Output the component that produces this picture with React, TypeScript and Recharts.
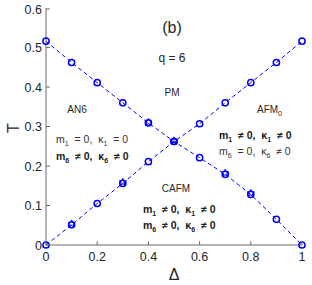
import React from 'react';
import { ComposedChart, Line, Scatter, XAxis, YAxis } from 'recharts';

// phase boundaries (q = 6)
const delta = [0, 0.1, 0.2, 0.3, 0.4, 0.5, 0.6, 0.7, 0.8, 0.9, 1];
const descT = [0.516, 0.462, 0.411, 0.36, 0.309, 0.262, 0.221, 0.179, 0.128, 0.065, 0];
const ascT = [0, 0.051, 0.105, 0.156, 0.211, 0.262, 0.307, 0.36, 0.411, 0.462, 0.516];
// points where the second (star) marker set is visible
const starD = [0.4, 0.1, 0.3, 0.5, 0.7, 0.8];
const starT = [0.311, 0.054, 0.159, 0.264, 0.182, 0.131];

const xTicks = [0, 0.2, 0.4, 0.6, 0.8, 1];
const yTicks = [0, 0.1, 0.2, 0.3, 0.4, 0.5, 0.6];

const descData = delta.map((d, i) => ({ d, t: descT[i] }));
const ascData = delta.map((d, i) => ({ d, t: ascT[i] }));
const starData = starD.map((d, i) => ({ d, t: starT[i] }));

const BLUE = '#0000ff';
const AXIS = '#6b6b6b';
const TXT = '#262626';
const FONT = '"Liberation Sans", Arial, Helvetica, sans-serif';

const fmt = (v: number) => String(v);

const BottomTick = (props: any) => {
  const { x, y, payload } = props;
  return (
    <g>
      <line x1={x} x2={x} y1={y} y2={y - 4} stroke={AXIS} />
      <text x={x} y={y + 16} textAnchor="middle" fontSize={12.5} fill={TXT} fontFamily={FONT}>
        {fmt(payload.value)}
      </text>
    </g>
  );
};

const TopTick = (props: any) => {
  const { x, y } = props;
  return <line x1={x} x2={x} y1={y} y2={y + 4} stroke={AXIS} />;
};

const LeftTick = (props: any) => {
  const { x, y, payload } = props;
  return (
    <g>
      <line x1={x} x2={x + 4} y1={y} y2={y} stroke={AXIS} />
      <text x={x - 4} y={y + 4.5} textAnchor="end" fontSize={12.5} fill={TXT} fontFamily={FONT}>
        {fmt(payload.value)}
      </text>
    </g>
  );
};

const RightTick = (props: any) => {
  const { x, y } = props;
  return <line x1={x} x2={x - 4} y1={y} y2={y} stroke={AXIS} />;
};

const CircleDot = (props: any) => {
  const { cx, cy } = props;
  if (cx == null || cy == null) return null;
  return <circle cx={cx} cy={cy} r={3.1} fill="none" stroke={BLUE} strokeWidth={1.5} />;
};

const StarShape = (props: any) => {
  const { cx, cy } = props;
  const R = 3.8;
  const r = 1.6;
  let d = '';
  for (let i = 0; i < 10; i++) {
    const a = -Math.PI / 2 + (i * Math.PI) / 5;
    const rr = i % 2 === 0 ? R : r;
    d += (i === 0 ? 'M' : 'L') + (cx + rr * Math.cos(a)).toFixed(2) + ',' + (cy + rr * Math.sin(a)).toFixed(2);
  }
  return <path d={d + 'Z'} fill="none" stroke={BLUE} strokeWidth={1} />;
};

const Sub = ({ c }: { c: string }) => (
  <>
    <tspan fontSize={7} dy={3}>{c}</tspan>
    <tspan dy={-3}>{'  '}</tspan>
  </>
);

const Cond = ({ x, y, n, a, b, bold }: any) => (
  <text
    x={x}
    y={y}
    fontSize={10.5}
    fontFamily={FONT}
    fill={bold ? '#1a1a1a' : '#333'}
    fontWeight={bold ? 'bold' : 'normal'}
    style={{ whiteSpace: 'pre' }}
  >
    m<Sub c={n} />{a + ' 0,  κ'}<Sub c={n} />{b + ' 0'}
  </text>
);

export default function App() {
  return (
    <div style={{ position: 'absolute', left: 0, top: 0, width: 312, height: 285, background: '#fff' }}>
      <ComposedChart width={312} height={285} margin={{ top: 8, right: 10, bottom: 0, left: 0 }}>
        <XAxis
          xAxisId="b"
          type="number"
          dataKey="d"
          domain={[0, 1]}
          ticks={xTicks}
          tick={<BottomTick />}
          tickSize={0}
          tickMargin={0}
          tickLine={false}
          height={40}
          stroke={AXIS}
          allowDuplicatedCategory={false}
        />
        <XAxis
          xAxisId="t"
          orientation="top"
          type="number"
          dataKey="d"
          domain={[0, 1]}
          ticks={xTicks}
          tick={<TopTick />}
          tickSize={0}
          tickMargin={0}
          tickLine={false}
          height={0}
          stroke={AXIS}
        />
        <YAxis
          yAxisId="l"
          type="number"
          domain={[0, 0.6]}
          ticks={yTicks}
          tick={<LeftTick />}
          tickSize={0}
          tickMargin={0}
          tickLine={false}
          width={46}
          stroke={AXIS}
        />
        <YAxis
          yAxisId="r"
          orientation="right"
          type="number"
          domain={[0, 0.6]}
          ticks={yTicks}
          tick={<RightTick />}
          tickSize={0}
          tickMargin={0}
          tickLine={false}
          width={0}
          stroke={AXIS}
        />
        <Line
          xAxisId="b"
          yAxisId="l"
          data={descData}
          dataKey="t"
          stroke={BLUE}
          strokeWidth={1}
          strokeDasharray="4 3"
          dot={<CircleDot />}
          activeDot={false}
          isAnimationActive={false}
        />
        <Line
          xAxisId="b"
          yAxisId="l"
          data={ascData}
          dataKey="t"
          stroke={BLUE}
          strokeWidth={1}
          strokeDasharray="4 3"
          dot={<CircleDot />}
          activeDot={false}
          isAnimationActive={false}
        />
        <Scatter
          xAxisId="b"
          yAxisId="l"
          data={starData}
          dataKey="t"
          shape={<StarShape />}
          isAnimationActive={false}
        />
      </ComposedChart>
      <svg width={312} height={285} style={{ position: 'absolute', left: 0, top: 0, pointerEvents: 'none' }}>
        <text x={13} y={128} transform="rotate(-90 13 128)" textAnchor="middle" dominantBaseline="central" fontSize={16} fill={TXT} fontFamily={FONT}>
          T
        </text>
        <text x={174} y={280} textAnchor="middle" fontSize={16} fill={TXT} fontFamily={FONT}>
          Δ
        </text>
        <text x={172} y={33} textAnchor="middle" fontSize={16} fill={TXT} fontFamily={FONT}>(b)</text>
        <text x={172} y={62} textAnchor="middle" fontSize={12} fill={TXT} fontFamily={FONT}>q = 6</text>
        <text x={172} y={96} textAnchor="middle" fontSize={10} fill={TXT} fontFamily={FONT}>PM</text>
        <text x={77} y={113} textAnchor="middle" fontSize={10} fill={TXT} fontFamily={FONT}>AN6</text>
        <text x={257} y={113} fontSize={10} fill={TXT} fontFamily={FONT}>
          AFM<tspan fontSize={7} dy={3}>0</tspan>
        </text>
        <text x={176} y={192} textAnchor="middle" fontSize={10} fill={TXT} fontFamily={FONT}>CAFM</text>
        <Cond x={56} y={143} n="1" a="=" b="=" bold={false} />
        <Cond x={56} y={160} n="6" a="≠" b="≠" bold />
        <Cond x={219} y={139} n="1" a="≠" b="≠" bold />
        <Cond x={219} y={155} n="6" a="=" b="≠" bold={false} />
        <Cond x={143} y={213} n="1" a="≠" b="≠" bold />
        <Cond x={143} y={229} n="6" a="≠" b="≠" bold />
      </svg>
    </div>
  );
}
